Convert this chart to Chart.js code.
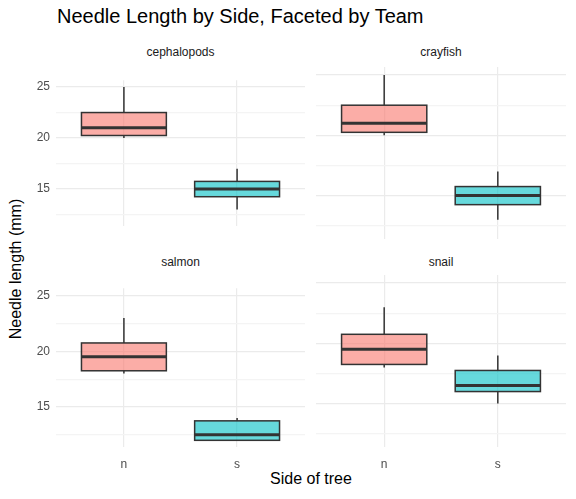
<!DOCTYPE html>
<html>
<head>
<meta charset="utf-8">
<script src="https://cdn.jsdelivr.net/npm/chart.js@4"></script>
<style>
body { margin: 0; background: #fff; font-family: "Liberation Sans", Arial, sans-serif; }
#wrap { position: relative; width: 576px; height: 499px; }
canvas { position: absolute; }
.txt { position: absolute; color: #000; white-space: nowrap; }
.strip { position: absolute; font-size: 12px; color: #1a1a1a; text-align: center; }
</style>
</head>
<body>
<div id="wrap">
  <div class="txt" style="left:57px;top:5px;font-size:20px;">Needle Length by Side, Faceted by Team</div>
  <div class="txt" style="left:0;top:260px;width:30px;font-size:16px;transform-origin:center;transform:translate(-69px,0) rotate(-90deg);width:170px;text-align:center;">Needle length (mm)</div>
  <div class="txt" style="left:56px;width:510px;top:470px;font-size:16px;text-align:center;">Side of tree</div>
  <div class="strip" style="left:56px;width:249px;top:45px;">cephalopods</div>
  <div class="strip" style="left:316px;width:250px;top:45px;">crayfish</div>
  <div class="strip" style="left:56px;width:249px;top:255px;">salmon</div>
  <div class="strip" style="left:316px;width:250px;top:255px;">snail</div>
  <canvas id="c0"></canvas>
  <canvas id="c1"></canvas>
  <canvas id="c2"></canvas>
  <canvas id="c3"></canvas>
</div>
<script>
const teams = ['cephalopods', 'crayfish', 'salmon', 'snail'];
const sides = ['n', 's'];
// per team: [n, s], each [min, q1, median, q3, max]
const cephalopods = [[20, 20.25, 21, 22.5, 25], [13, 14.25, 15, 15.75, 17]];
const crayfish = [[20, 20.25, 21, 22.5, 25], [13, 14.25, 15, 15.75, 17]];
const salmon = [[18, 18.25, 19.5, 20.75, 23], [12, 12, 12.5, 13.75, 14]];
const snail = [[18, 18.25, 19.5, 20.75, 23], [15, 16, 16.5, 17.75, 19]];
const teamStats = [cephalopods, crayfish, salmon, snail];
const fills = ['rgba(248,118,109,0.6)', 'rgba(0,191,196,0.6)'];
const yTicks = [12.5, 15, 17.5, 20, 22.5, 25];

const boxPlugin = {
    id: 'box',
    afterDatasetsDraw(chart) {
        const ctx = chart.ctx;
        const xs = chart.scales.x, ys = chart.scales.y;
        const stats = chart.config.options.plugins.box.stats;
        const half = (xs.getPixelForValue(1.375) - xs.getPixelForValue(1));
        ctx.save();
        ctx.strokeStyle = '#333333';
        stats.forEach((s, i) => {
            const x = xs.getPixelForValue(i + 1);
            const [mn, q1, md, q3, mx] = s.map(v => ys.getPixelForValue(v));
            ctx.lineWidth = 1.5;
            ctx.beginPath();
            ctx.moveTo(x, mn); ctx.lineTo(x, q1);
            ctx.moveTo(x, q3); ctx.lineTo(x, mx);
            ctx.stroke();
            ctx.fillStyle = fills[i];
            ctx.fillRect(x - half, q3, 2 * half, q1 - q3);
            ctx.strokeRect(x - half, q3, 2 * half, q1 - q3);
            ctx.lineWidth = 3;
            ctx.beginPath();
            ctx.moveTo(x - half, md); ctx.lineTo(x + half, md);
            ctx.stroke();
        });
        ctx.restore();
    }
};

function makeChart(idx) {
    const left = idx % 2 === 0;
    const bottom = idx >= 2;
    const canvas = document.getElementById('c' + idx);
    const yW = left ? 36 : 0;
    const xH = bottom ? 30 : 0;
    const areaL = left ? 56 : 316;
    const areaW = left ? 249 : 250;
    const areaT = bottom ? 275 : 67;
    const areaH = 172;
    canvas.style.left = (areaL - yW) + 'px';
    canvas.style.top = areaT + 'px';
    canvas.width = areaW + yW; canvas.height = areaH + xH;
    canvas.style.width = (areaW + yW) + 'px';
    canvas.style.height = (areaH + xH) + 'px';
    const stats = teamStats[idx];
    new Chart(canvas, {
        type: 'scatter',
        data: { datasets: [{ data: stats.map((s, i) => ({ x: i + 1, y: s[2] })), pointRadius: 0 }] },
        options: {
            responsive: false, animation: false, devicePixelRatio: 1,
            layout: { padding: 0 },
            plugins: { legend: { display: false }, tooltip: { enabled: false }, box: { stats } },
            scales: {
                x: {
                    type: 'linear', min: 0.4, max: 2.6,
                    afterBuildTicks: a => { a.ticks = [{ value: 1 }, { value: 2 }]; },
                    afterFit: a => { a.height = xH; },
                    grid: { color: '#ebebeb', lineWidth: 1.2, drawTicks: false },
                    border: { display: false },
                    ticks: { display: bottom, padding: 10, color: '#4d4d4d', font: { size: 12 }, callback: v => sides[v - 1] }
                },
                y: {
                    min: 11.4, max: 25.67,
                    afterBuildTicks: a => { a.ticks = yTicks.map(v => ({ value: v })); },
                    afterFit: a => { a.width = yW; },
                    grid: { color: c => c.tick.value % 5 === 0 ? '#ebebeb' : '#f4f4f4', lineWidth: 1.2, drawTicks: false },
                    border: { display: false },
                    ticks: { display: left, padding: 6, color: '#4d4d4d', font: { size: 12 }, callback: v => v % 5 === 0 ? v : '' }
                }
            }
        },
        plugins: [boxPlugin]
    });
}
teams.forEach((t, i) => makeChart(i));
</script>
</body>
</html>
